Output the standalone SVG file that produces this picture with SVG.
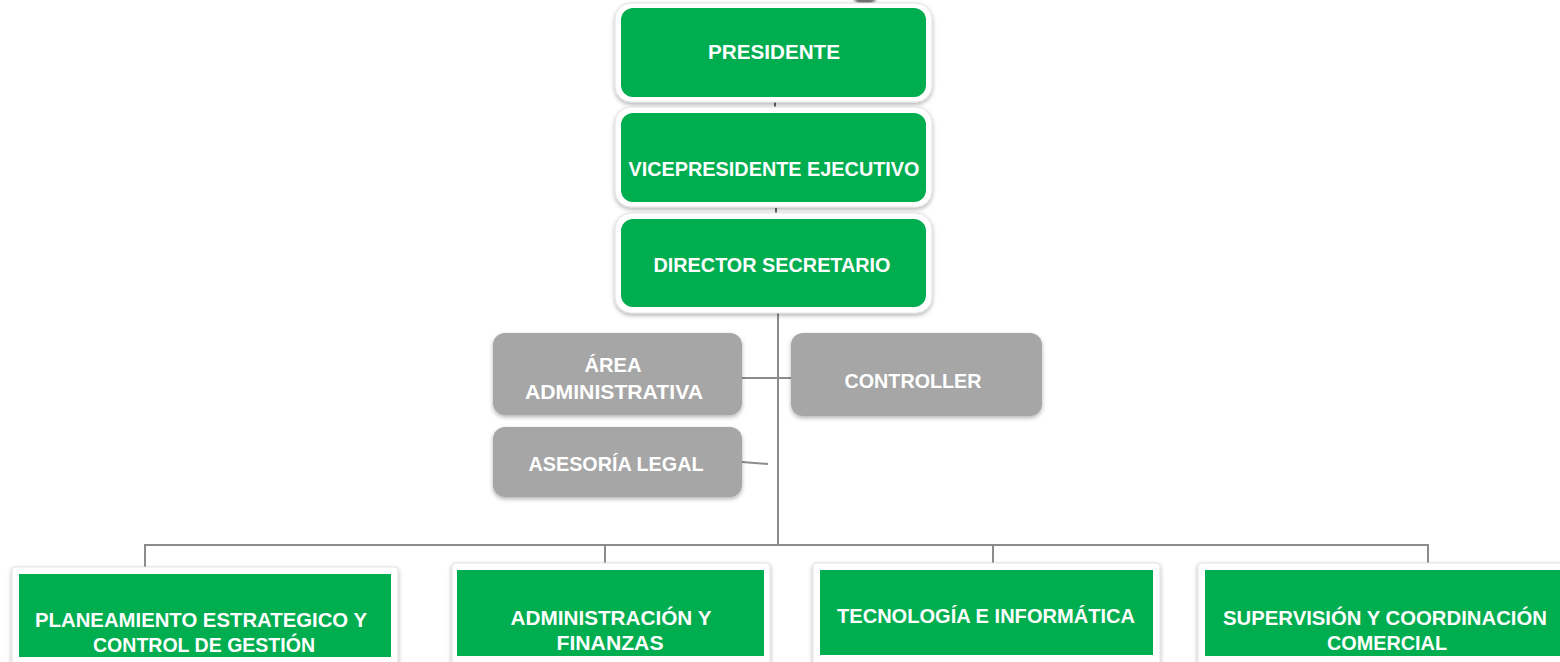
<svg xmlns="http://www.w3.org/2000/svg" width="1560" height="662" viewBox="0 0 1560 662">
<style>
.t{font-family:"Liberation Sans",Arial,sans-serif;font-weight:bold;fill:#ffffff;text-anchor:middle}
.t20{font-size:21px}
.t19{font-size:20px}
.frame{fill:#ffffff;stroke:#e2e2e2;stroke-width:1}
.green{fill:#00ad4f}
.grey{fill:#a6a6a6}
.conn{stroke:#8c8c8c;stroke-width:2;fill:none}
</style>
<defs>
<filter id="sh" x="-10%" y="-20%" width="120%" height="150%">
<feDropShadow dx="0" dy="2" stdDeviation="2" flood-color="#000000" flood-opacity="0.3"/>
</filter>
<filter id="blur" x="-50%" y="-50%" width="200%" height="200%">
<feGaussianBlur stdDeviation="1.5"/>
</filter>
</defs>
<rect width="1560" height="662" fill="#ffffff"/>
<circle cx="865" cy="-6" r="12" fill="#707070" filter="url(#blur)"/>

<g id="connectors">
<line class="conn" x1="778" y1="312" x2="778" y2="546"/>
<line class="conn" x1="742" y1="378" x2="791" y2="378"/>
<line class="conn" x1="742" y1="462" x2="768" y2="464"/>
<polyline class="conn" points="145,567 145,545 1428,545 1428,565"/>
<line class="conn" x1="605" y1="545" x2="605" y2="563"/>
<line class="conn" x1="993" y1="545" x2="993" y2="563"/>
<line x1="775" y1="102" x2="775" y2="107" stroke="#666" stroke-width="2"/>
<line x1="776" y1="208" x2="776" y2="213" stroke="#666" stroke-width="2"/>
</g>

<g id="presidente">
<rect class="frame" x="615" y="3" width="317" height="99" rx="16" filter="url(#sh)"/>
<rect class="green" x="621" y="8" width="305" height="89" rx="12"/>
<text class="t t20" x="774" y="59" textLength="132" lengthAdjust="spacingAndGlyphs">PRESIDENTE</text>
</g>

<g id="vicepresidente">
<rect class="frame" x="615" y="107" width="317" height="100" rx="16" filter="url(#sh)"/>
<rect class="green" x="621" y="113" width="305" height="89" rx="12"/>
<text class="t t20" x="774" y="176" textLength="291" lengthAdjust="spacingAndGlyphs">VICEPRESIDENTE EJECUTIVO</text>
</g>

<g id="director">
<rect class="frame" x="615" y="213" width="317" height="100" rx="16" filter="url(#sh)"/>
<rect class="green" x="621" y="219" width="305" height="88" rx="12"/>
<text class="t t20" x="772" y="272" textLength="237" lengthAdjust="spacingAndGlyphs">DIRECTOR SECRETARIO</text>
</g>

<g id="area-administrativa">
<rect class="grey" x="493" y="333" width="249" height="82" rx="12" filter="url(#sh)"/>
<text class="t t19" x="613" y="372" textLength="57" lengthAdjust="spacingAndGlyphs">ÁREA</text>
<text class="t t19" x="614" y="399" textLength="178" lengthAdjust="spacingAndGlyphs">ADMINISTRATIVA</text>
</g>

<g id="controller">
<rect class="grey" x="791" y="333" width="251" height="83" rx="12" filter="url(#sh)"/>
<text class="t t19" x="913" y="388" textLength="137" lengthAdjust="spacingAndGlyphs">CONTROLLER</text>
</g>

<g id="asesoria-legal">
<rect class="grey" x="493" y="427" width="249" height="70" rx="12" filter="url(#sh)"/>
<text class="t t19" x="616" y="471" textLength="175" lengthAdjust="spacingAndGlyphs">ASESORÍA LEGAL</text>
</g>

<g id="planeamiento">
<rect class="frame" x="12" y="567" width="386" height="98" rx="3" filter="url(#sh)"/>
<rect class="green" x="19" y="574" width="372" height="83"/>
<text class="t t19" x="201" y="627" textLength="332" lengthAdjust="spacingAndGlyphs">PLANEAMIENTO ESTRATEGICO Y</text>
<text class="t t19" x="204" y="652" textLength="222" lengthAdjust="spacingAndGlyphs">CONTROL DE GESTIÓN</text>
</g>

<g id="administracion">
<rect class="frame" x="452" y="563" width="318" height="102" rx="3" filter="url(#sh)"/>
<rect class="green" x="457" y="570" width="307" height="86"/>
<text class="t t19" x="611" y="625" textLength="201" lengthAdjust="spacingAndGlyphs">ADMINISTRACIÓN Y</text>
<text class="t t19" x="610" y="650" textLength="107" lengthAdjust="spacingAndGlyphs">FINANZAS</text>
</g>

<g id="tecnologia">
<rect class="frame" x="813" y="563" width="347" height="102" rx="3" filter="url(#sh)"/>
<rect class="green" x="820" y="570" width="333" height="85"/>
<text class="t t19" x="986" y="623" textLength="298" lengthAdjust="spacingAndGlyphs">TECNOLOGÍA E INFORMÁTICA</text>
</g>

<g id="supervision">
<rect class="frame" x="1198" y="563" width="372" height="102" rx="3" filter="url(#sh)"/>
<rect class="green" x="1205" y="570" width="365" height="86"/>
<text class="t t19" x="1385" y="625" textLength="324" lengthAdjust="spacingAndGlyphs">SUPERVISIÓN Y COORDINACIÓN</text>
<text class="t t19" x="1387" y="650" textLength="120" lengthAdjust="spacingAndGlyphs">COMERCIAL</text>
</g>
</svg>
